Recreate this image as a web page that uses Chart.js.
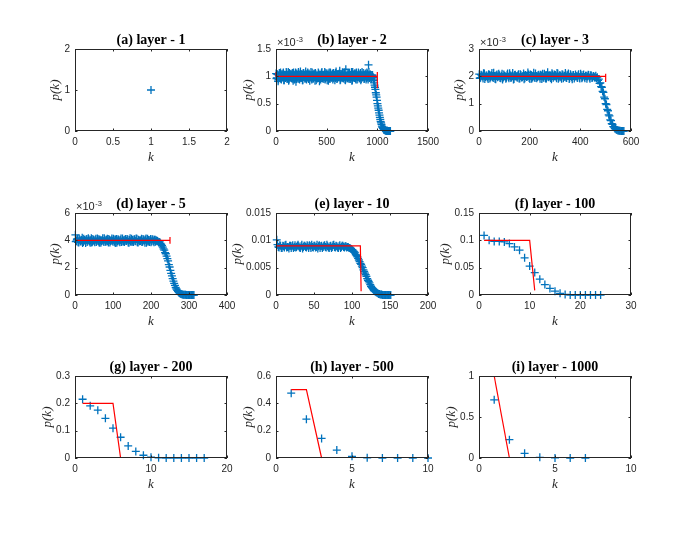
<!DOCTYPE html>
<html>
<head>
<meta charset="utf-8">
<script src="https://cdn.jsdelivr.net/npm/chart.js@4.4.0/dist/chart.umd.min.js"></script>
<style>
body{margin:0;background:#fff;width:692px;height:543px;position:relative;overflow:hidden}
.panel{position:absolute}
</style>
</head>
<body>
<script>
// ---------- data ----------
// (a) layer 1
const kA=[1], pA=[1];
const xTicksA=[0,0.5,1,1.5,2], yTicksA=[0,1,2];

// (b) layer 2, p values in units of 1e-3
const kStartB1=1, kStepB1=8;
const pB1=[1.05,0.97,1.03,0.94,1.06,1.00,0.95,1.04,0.98,1.07,
0.93,1.02,0.99,1.05,0.96,1.08,0.94,1.01,1.04,0.97,
1.06,0.92,1.03,0.99,1.07,0.95,1.02,0.98,1.05,0.94,
1.09,0.97,1.01,0.93,1.06,1.00,0.96,1.04,0.98,1.07,
0.95,1.03,0.99,1.08,0.94,1.02,0.97,1.05,0.92,1.04,
1.00,0.96,1.07,0.98,1.03,0.94,1.06,0.99,1.02,0.95,
1.08,0.97,1.04,0.93,1.05,1.00,0.96,1.07,0.98,1.03,
0.94,1.06,1.01,0.97,1.09,0.95,1.02,0.99,1.05,0.93,
1.04,0.98,1.07,0.96,1.03,0.94,1.13,1.00,0.97,1.06,
0.95,1.02,0.99,1.08,0.93,1.04,0.98,1.05,0.96,1.07,
0.94,1.03,1.00,0.97,1.06,0.95,1.08,0.99,1.02,0.96,
1.05,0.94,1.07,0.98,1.21,0.97,1.04,0.95,1.02];
const kStartB1b=5, kStepB1b=8;
const pB1b=[0.96,1.04,0.91,1.02,0.99,1.07,0.94,1.01,1.05,0.93,
1.03,0.97,1.08,0.95,1.00,0.92,1.06,0.98,1.04,0.96,
1.01,1.07,0.94,1.03,0.90,1.05,0.99,1.08,0.95,1.02,
0.97,1.04,0.93,1.06,1.00,0.96,1.09,0.94,1.03,0.98,
1.05,0.92,1.01,0.97,1.07,0.95,1.04,0.99,1.06,0.93,
1.02,0.98,1.05,0.91,1.03,0.97,1.08,0.96,1.00,1.04,
0.94,1.06,0.99,1.02,0.92,1.07,0.95,1.03,0.98,1.05,
0.97,1.01,0.93,1.06,1.00,0.96,1.04,0.98,1.10,0.94,
1.02,0.97,1.05,0.99,1.07,0.93,1.01,0.96,1.04,0.98,
1.06,0.95,1.03,0.92,1.08,1.00,0.97,1.05,0.94,1.02,
0.99,1.07,0.96,1.04,0.93,1.01,0.98,1.06,0.95,1.03,
1.00,0.97,1.05,0.94,1.08,0.99,1.02,0.96];
const kStartB2=953, kStepB2=8;
const pB2=[1.02,0.95,0.88,0.80,0.70,0.62,0.50,0.42,0.33,0.25,
0.17,0.12,0.07,0.05,0.02,0.02,0.01,0.00,0.01,0.00,0.00,0.00,0.00];
const kStartB2b=957, kStepB2b=8;
const pB2b=[0.98,0.92,0.84,0.76,0.66,0.56,0.46,0.38,0.29,0.21,
0.15,0.09,0.06,0.04,0.03,0.01,0.01,0.00,0.00,0.00,0.00,0.00];
const redKB=[1,1,1000,1000,1000], redPB=[1.08,1.0,1.0,1.08,0.78];
const xTicksB=[0,500,1000,1500], yTicksB=[0,0.5,1,1.5];

// (c) layer 3, units of 1e-3
const kStartC1=1, kStepC1=5;
const pC1=[2.08,1.95,2.04,1.92,2.10,1.98,2.03,1.90,2.06,1.97,
2.12,1.94,2.01,1.89,2.07,1.99,2.04,1.93,2.09,1.96,
2.02,1.91,2.06,1.98,2.11,1.94,2.03,1.88,2.05,2.00,
1.95,2.08,1.92,2.04,1.97,2.10,1.93,2.02,1.99,2.07,
1.90,2.05,1.96,2.13,1.94,2.01,1.98,2.06,1.91,2.03,
2.09,1.95,2.04,1.92,2.15,1.97,2.02,1.89,2.07,1.99,
2.05,1.93,2.10,1.96,2.03,1.91,2.06,1.98,2.12,1.94,
2.01,1.90,2.08,1.97,2.04,1.92,2.07,1.99,2.03,1.95,
2.09,1.93,2.05,1.98,2.02,1.91,2.06,1.96,2.04,1.94,
2.01,1.97];
const kStartC1b=3, kStepC1b=5;
const pC1b=[1.93,2.06,1.99,2.11,1.90,2.03,1.96,2.08,1.92,2.05,
1.98,2.13,1.91,2.04,1.97,2.09,1.94,2.02,1.88,2.07,
2.00,1.95,2.10,1.93,2.04,1.97,2.12,1.90,2.06,1.99,
2.03,1.92,2.08,1.96,2.01,1.89,2.05,1.98,2.14,1.94,
2.07,1.91,2.02,1.97,2.10,1.93,2.04,1.99,2.06,1.90,
1.96,2.09,1.92,2.05,1.98,2.03,1.94,2.11,1.95,2.07,
1.99,2.12,1.91,2.04,1.97,2.08,1.93,2.02,1.96,2.06,
2.10,1.95,2.03,1.89,2.05,1.98,2.01,1.94,2.08,1.92,
2.04,1.97,2.07,1.93,2.02,1.99,2.05,1.91,2.03,1.96,
2.00,1.95];
const kStartC2=461, kStepC2=3;
const pC2=[2.02,1.94,1.97,1.85,1.90,1.74,1.76,1.62,1.60,1.45,
1.41,1.24,1.18,1.00,0.97,0.79,0.74,0.59,0.55,0.41,
0.38,0.27,0.24,0.16,0.14,0.09,0.08,0.05,0.04,0.02,
0.02,0.01,0.01,0.00,0.00,0.00,0.00,0.00];
const redKC=[1,500,500,500], redPC=[2.0,2.0,2.09,1.79];
const xTicksC=[0,200,400,600], yTicksC=[0,1,2,3];

// (d) layer 5, units of 1e-3
const kStartD1=1, kStepD1=3;
const pD1=[4.40,3.95,4.12,3.85,4.05,3.92,4.18,3.88,4.02,3.80,
4.10,3.97,4.06,3.83,4.15,3.90,4.03,3.86,4.12,3.95,
4.08,3.82,4.00,3.93,4.16,3.87,4.05,3.91,4.11,3.84,
4.02,3.96,4.14,3.89,4.07,3.81,4.09,3.94,4.04,3.86,
4.13,3.92,4.01,3.88,4.10,3.95,4.06,3.83,4.15,3.90,
4.03,3.87,4.08,3.93,4.12,3.85,4.00,3.96,4.11,3.89,
4.05,3.82,4.14,3.92,4.02,3.88,4.09,3.94,4.06,3.86,
4.04,3.97];
const kStartD1b=2, kStepD1b=3;
const pD1b=[3.90,4.08,3.86,4.14,3.93,4.03,3.81,4.11,3.97,4.06,
3.88,4.16,3.92,4.01,3.84,4.09,3.95,4.04,3.87,4.13,
3.91,4.07,3.83,4.02,3.96,4.15,3.89,4.05,3.93,4.10,
3.85,4.00,3.97,4.12,3.90,4.06,3.82,4.08,3.94,4.03,
3.87,4.14,3.91,4.05,3.96,4.09,3.84,4.02,3.92,4.11,
3.89,4.07,3.95,4.13,3.86,4.04,3.93,4.00,3.88,4.10,
3.97,4.06,3.83,4.12,3.91,4.03,3.86,4.08,3.94,4.05,
3.90,3.98];
const kStartD2=217, kStepD2=2;
const pD2=[3.95,3.90,3.85,3.88,3.78,3.70,3.62,3.50,3.38,3.28,
3.10,3.02,2.85,2.66,2.50,2.22,2.05,1.80,1.58,1.40,
1.20,1.02,0.85,0.70,0.55,0.44,0.34,0.26,0.19,0.14,
0.10,0.07,0.05,0.04,0.02,0.02,0.01,0.01,0.00,0.00,
0.00,0.00,0.00,0.00,0.00,0.00,0.00,0.00,0.00];
const redKD=[1,250,250,250], redPD=[4.0,4.0,4.25,3.75];
const xTicksD=[0,100,200,300,400], yTicksD=[0,2,4,6];

// (e) layer 10, units of 1e-4
const kStartE=1, kStepE=2;
const pE=[101,88,91,86,90,87,92,88,85,90,
89,86,91,88,92,87,89,85,90,88,
91,86,89,92,87,90,88,85,91,89,
86,90,88,92,87,89,86,91,88,90,
87,89,86,90,88,89,87,88,86,84,
82,79,74,70,64,58,53,46,40,34,
27,22,16,12,8,6,4,2,1,1,
0,0,0,0,0,0];
const kStartEb=2, kStepEb=2;
const pEb=[92,87,90,86,89,91,87,88,90,86,
91,88,87,90,89,86,92,88,90,87,
89,91,86,88,90,87,92,89,86,90,
88,91,87,89,86,90,88,92,87,89,
86,91,88,90,87,89,88,86,85,83,
80,77,72,67,61,56,50,43,37,30,
25,19,14,10,7,5,3,2,1,0,
0,0,0,0,0];
const redKE=[1,111,112], redPE=[0.009,0.009,0.0007];
const xTicksE=[0,50,100,150,200], yTicksE=[0,0.005,0.01,0.015];

// (f) layer 100
const kF=[1,2,3,4,5,6,7,8,9,10,11,12,13,14,15,16,17,18,19,20,21,22,23,24];
const pF=[0.109,0.100,0.098,0.098,0.097,0.094,0.088,0.082,0.068,0.053,0.041,0.029,
0.019,0.012,0.007,0.003,0.001,0,0,0,0,0,0,0];
const redKF=[1,10,11], redPF=[0.1,0.1,0.0085];
const xTicksF=[0,10,20,30], yTicksF=[0,0.05,0.1,0.15];

// (g) layer 200
const kG=[1,2,3,4,5,6,7,8,9,10,11,12,13,14,15,16,17];
const pG=[0.215,0.191,0.175,0.145,0.109,0.076,0.044,0.024,0.010,0.003,0.001,0,0,0,0,0,0];
const redKG=[1,5,6], redPG=[0.2,0.2,0];
const xTicksG=[0,10,20], yTicksG=[0,0.1,0.2,0.3];

// (h) layer 500
const kH=[1,2,3,4,5,6,7,8,9,10];
const pH=[0.474,0.284,0.143,0.058,0.012,0.002,0,0,0,0];
const redKH=[1,2,3], redPH=[0.5,0.5,0];
const xTicksH=[0,5,10], yTicksH=[0,0.2,0.4,0.6];

// (i) layer 1000
const kI=[1,2,3,4,5,6,7];
const pI=[0.709,0.223,0.057,0.008,0.001,0,0];
const redKI=[1,2], redPI=[1,0];
const xTicksI=[0,5,10], yTicksI=[0,0.5,1];

// ---------- layout ----------
const colLeft=[75,276,479], rowTop=[49,213,376];
const plotW=152, plotH=82;
const padL=50, padT=30, padR=20, padB=35;
const tickFont={family:'Liberation Sans',size:10};

function pairs(ks,vals,scale){ return vals.map((v,i)=>({x:ks[i],y:v*(scale||1)})) }
function seq(start,step,vals,scale){ return vals.map((v,i)=>({x:start+i*step,y:v*(scale||1)})) }

const framePlugin={
  id:'frame',
  afterDraw(chart){
    const o=chart.options.plugins.frame, a=chart.chartArea, ctx=chart.ctx;
    const xs=chart.scales.x, ys=chart.scales.y;
    ctx.save();
    ctx.strokeStyle='#262626'; ctx.lineWidth=1;
    ctx.beginPath();
    xs.ticks.forEach(t=>{
      const px=Math.round(xs.getPixelForValue(t.value))+0.5;
      ctx.moveTo(px,a.bottom); ctx.lineTo(px,a.bottom-2.5);
      ctx.moveTo(px,a.top); ctx.lineTo(px,a.top+2.5);
    });
    ys.ticks.forEach(t=>{
      const py=Math.round(ys.getPixelForValue(t.value))+0.5;
      ctx.moveTo(a.left,py); ctx.lineTo(a.left+2.5,py);
      ctx.moveTo(a.right,py); ctx.lineTo(a.right-2.5,py);
    });
    ctx.stroke();
    ctx.strokeRect(a.left+0.5,a.top+0.5,a.right-a.left-1,a.bottom-a.top-1);

    // widest y tick label, so the y label sits just left of it
    ctx.font=tickFont.size+'px "'+tickFont.family+'"';
    let maxW=0;
    ys.ticks.forEach(t=>{maxW=Math.max(maxW,ctx.measureText(String(t.value)).width)});
    const labelLeft=a.left-5-maxW;

    const cx=(a.left+a.right)/2, cy=(a.top+a.bottom)/2;
    ctx.fillStyle='#000';
    ctx.font='bold 14px "Liberation Serif"';
    ctx.textAlign='center'; ctx.textBaseline='alphabetic';
    ctx.fillText(o.title,cx,a.top-5);

    ctx.fillStyle='#262626';
    ctx.font='italic 13px "Liberation Serif"';
    ctx.textBaseline='middle';
    ctx.fillText('k',cx,a.bottom+27);
    ctx.save();
    ctx.translate(labelLeft-2,cy); ctx.rotate(-Math.PI/2);
    ctx.textBaseline='bottom';
    ctx.fillText('p(k)',0,0);
    ctx.restore();

    if(o.exp){
      ctx.textAlign='left'; ctx.textBaseline='alphabetic';
      ctx.font='11px "Liberation Sans"';
      ctx.fillText('\u00d710',a.left+1,a.top-3);
      const w=ctx.measureText('\u00d710').width;
      ctx.font='7.5px "Liberation Sans"';
      ctx.fillText('-3',a.left+1.5+w,a.top-7);
    }
    ctx.restore();
  }
};

function axis(ticks,fit){
  return {
    type:'linear', min:ticks[0], max:ticks[ticks.length-1],
    grid:{display:false,drawTicks:false}, border:{display:false},
    ticks:{padding:5,color:'#262626',font:tickFont,
      maxRotation:0,autoSkip:false,callback:v=>String(v)},
    afterBuildTicks:s=>{s.ticks=ticks.map(v=>({value:v}))},
    afterFit:fit
  };
}

function makePanel(p){
  const div=document.createElement('div');
  div.className='panel';
  div.style.left=(colLeft[p.col]-padL)+'px';
  div.style.top=(rowTop[p.row]-padT)+'px';
  const cv=document.createElement('canvas');
  cv.width=plotW+padL+padR; cv.height=plotH+padT+padB;
  cv.style.width=cv.width+'px'; cv.style.height=cv.height+'px';
  div.appendChild(cv); document.body.appendChild(div);
  new Chart(cv,{
    type:'scatter',
    data:{datasets:[
      {data:p.red,showLine:true,borderColor:'#ff0000',borderWidth:1.2,pointRadius:0,fill:false,clip:false},
      {data:p.blue,showLine:false,pointStyle:'cross',pointRadius:4,borderColor:'#0072bd',
       backgroundColor:'#0072bd',borderWidth:1.3,clip:false}
    ]},
    options:{
      responsive:false,animation:false,events:[],
      layout:{padding:{top:padT,right:padR,left:0,bottom:0}},
      plugins:{legend:{display:false},tooltip:{enabled:false},frame:{title:p.title,exp:p.exp}},
      scales:{
        x:axis(p.xTicks,s=>{s.height=padB}),
        y:axis(p.yTicks,s=>{s.width=padL})
      }
    },
    plugins:[framePlugin]
  });
}

const panels=[
  {title:'(a) layer - 1',col:0,row:0,xTicks:xTicksA,yTicks:yTicksA,blue:pairs(kA,pA),red:[],exp:false},
  {title:'(b) layer - 2',col:1,row:0,xTicks:xTicksB,yTicks:yTicksB,
   blue:[].concat(seq(kStartB1,kStepB1,pB1),seq(kStartB1b,kStepB1b,pB1b),
                  seq(kStartB2,kStepB2,pB2),seq(kStartB2b,kStepB2b,pB2b)),
   red:pairs(redKB,redPB),exp:true},
  {title:'(c) layer - 3',col:2,row:0,xTicks:xTicksC,yTicks:yTicksC,
   blue:[].concat(seq(kStartC1,kStepC1,pC1),seq(kStartC1b,kStepC1b,pC1b),seq(kStartC2,kStepC2,pC2)),
   red:pairs(redKC,redPC),exp:true},
  {title:'(d) layer - 5',col:0,row:1,xTicks:xTicksD,yTicks:yTicksD,
   blue:[].concat(seq(kStartD1,kStepD1,pD1),seq(kStartD1b,kStepD1b,pD1b),seq(kStartD2,kStepD2,pD2)),
   red:pairs(redKD,redPD),exp:true},
  {title:'(e) layer - 10',col:1,row:1,xTicks:xTicksE,yTicks:yTicksE,
   blue:[].concat(seq(kStartE,kStepE,pE,1e-4),seq(kStartEb,kStepEb,pEb,1e-4)),
   red:pairs(redKE,redPE),exp:false},
  {title:'(f) layer - 100',col:2,row:1,xTicks:xTicksF,yTicks:yTicksF,blue:pairs(kF,pF),red:pairs(redKF,redPF),exp:false},
  {title:'(g) layer - 200',col:0,row:2,xTicks:xTicksG,yTicks:yTicksG,blue:pairs(kG,pG),red:pairs(redKG,redPG),exp:false},
  {title:'(h) layer - 500',col:1,row:2,xTicks:xTicksH,yTicks:yTicksH,blue:pairs(kH,pH),red:pairs(redKH,redPH),exp:false},
  {title:'(i) layer - 1000',col:2,row:2,xTicks:xTicksI,yTicks:yTicksI,blue:pairs(kI,pI),red:pairs(redKI,redPI),exp:false}
];
panels.forEach(makePanel);
</script>
</body>
</html>
